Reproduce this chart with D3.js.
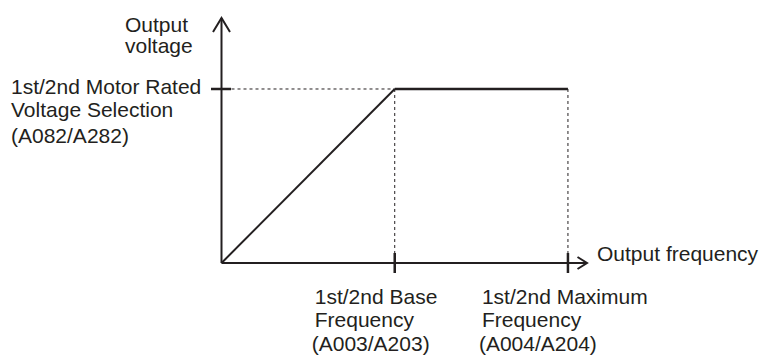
<!DOCTYPE html>
<html>
<head>
<meta charset="utf-8">
<script src="https://cdn.jsdelivr.net/npm/d3@7"></script>
<style>
  html, body { margin: 0; padding: 0; background: #fff; }
  svg { display: block; }
  text { font-family: "Liberation Sans", Arial, Helvetica, sans-serif; font-size: 21px; fill: #231f20; }
</style>
</head>
<body>
<svg id="chart" width="761" height="356"></svg>
<script>
// ---- data ----
const frequency = [0, 50, 100];          // output frequency points (Hz, schematic)
const voltage   = [0, 200, 200];         // output voltage at those points (V, schematic)
const axisMax   = { frequency: 105.5, voltage: 281.6 };
const yTickValues = [200];
const yTickLabels = [["1st/2nd Motor Rated", "Voltage Selection"], ["(A082/A282)"]];
const xTickValues = [50, 100];
const xTickLabels = [
  ["1st/2nd Base", "Frequency", "(A003/A203)"],
  ["1st/2nd Maximum", "Frequency", "(A004/A204)"]
];
const yAxisTitle = ["Output", "voltage"];
const xAxisTitle = "Output frequency";

// ---- drawing ----
const ink = "#231f20";
const svg = d3.select("#chart");
const x = d3.scaleLinear().domain([0, axisMax.frequency]).range([221.5, 587]);
const y = d3.scaleLinear().domain([0, axisMax.voltage]).range([263, 18]);

// dashed guide lines
const g = svg.append("g");
yTickValues.forEach(v => {
  g.append("line").attr("x1", x(0) + 10).attr("x2", x(xTickValues[0]))
    .attr("y1", y(v)).attr("y2", y(v))
    .attr("stroke", ink).attr("stroke-width", 1).attr("stroke-dasharray", "3,3");
});
xTickValues.forEach(f => {
  g.append("line").attr("x1", x(f)).attr("x2", x(f))
    .attr("y1", y(yTickValues[0])).attr("y2", y(0) - 10)
    .attr("stroke", ink).attr("stroke-width", 1).attr("stroke-dasharray", "3,3");
});

// axes
svg.append("line").attr("x1", x(0)).attr("x2", x(axisMax.frequency))
  .attr("y1", y(0)).attr("y2", y(0)).attr("stroke", ink).attr("stroke-width", 2);
svg.append("line").attr("x1", x(0)).attr("x2", x(0))
  .attr("y1", y(0)).attr("y2", y(axisMax.voltage)).attr("stroke", ink).attr("stroke-width", 2);

// arrowheads
const yTip = [x(0), y(axisMax.voltage)];
svg.append("path")
  .attr("d", d3.line()([[yTip[0] - 8.5, yTip[1] + 14], yTip, [yTip[0] + 8.5, yTip[1] + 14]]))
  .attr("fill", "none").attr("stroke", ink).attr("stroke-width", 2);
const xTip = [x(axisMax.frequency), y(0)];
svg.append("path")
  .attr("d", d3.line()([[xTip[0] - 9.5, xTip[1] - 6], xTip, [xTip[0] - 9.5, xTip[1] + 6]]))
  .attr("fill", "none").attr("stroke", ink).attr("stroke-width", 2);

// ticks
yTickValues.forEach(v => {
  svg.append("line").attr("x1", x(0) - 10.5).attr("x2", x(0) + 9.5)
    .attr("y1", y(v)).attr("y2", y(v)).attr("stroke", ink).attr("stroke-width", 2.5);
});
xTickValues.forEach(f => {
  svg.append("line").attr("x1", x(f)).attr("x2", x(f))
    .attr("y1", y(0) - 10).attr("y2", y(0) + 10).attr("stroke", ink).attr("stroke-width", 2.5);
});

// V/f curve
const pts = frequency.map((f, i) => [x(f), y(voltage[i])]);
svg.append("path").attr("d", d3.line()(pts.slice(0, 2)))
  .attr("fill", "none").attr("stroke", ink).attr("stroke-width", 2);
svg.append("path").attr("d", d3.line()(pts.slice(1)))
  .attr("fill", "none").attr("stroke", ink).attr("stroke-width", 2.5);

// labels
const ty = svg.append("text");
ty.append("tspan").attr("x", 125).attr("y", 32).text(yAxisTitle[0]);
ty.append("tspan").attr("x", 125).attr("y", 53).text(yAxisTitle[1]);

svg.append("text").attr("x", 597).attr("y", 261).text(xAxisTitle);

const yl = svg.append("text");
yl.append("tspan").attr("x", 11).attr("y", 94).text(yTickLabels[0][0]);
yl.append("tspan").attr("x", 11).attr("y", 117).text(yTickLabels[0][1]);
yl.append("tspan").attr("x", 11).attr("y", 143).text(yTickLabels[1][0]);

const xOffsets = [-80, -86];
xTickValues.forEach((f, i) => {
  const t = svg.append("text");
  const lx = x(f) + xOffsets[i];
  t.append("tspan").attr("x", lx).attr("y", 304).text(xTickLabels[i][0]);
  t.append("tspan").attr("x", lx).attr("y", 327).text(xTickLabels[i][1]);
  t.append("tspan").attr("x", lx - 3).attr("y", 351).text(xTickLabels[i][2]);
});
</script>
</body>
</html>
